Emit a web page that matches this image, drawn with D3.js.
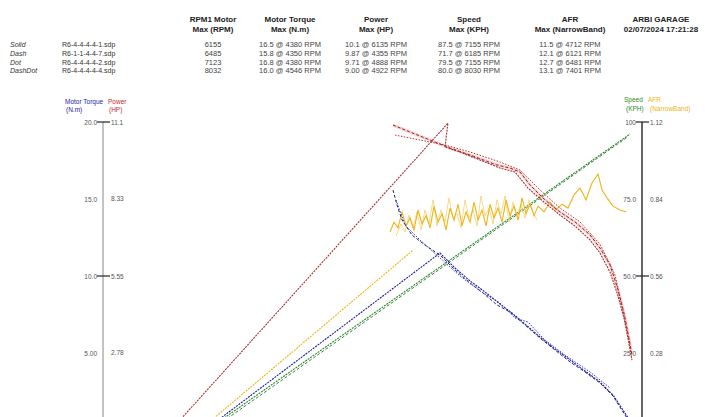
<!DOCTYPE html>
<html><head><meta charset="utf-8">
<script src="https://cdn.jsdelivr.net/npm/d3@7"></script>
<style>body{margin:0;background:#fff}svg{display:block}text{font-family:"Liberation Sans",Arial,sans-serif}</style>
</head><body><svg id="c" width="705" height="417"></svg>
<script>
// ---- header data ----
const runNames = ["Solid","Dash","Dot","DashDot"];
const runFiles = ["R6-4-4-4-4-1.sdp","R6-1-1-4-4-7.sdp","R6-4-4-4-4-2.sdp","R6-4-4-4-4-4.sdp"];
const colHeads1 = ["RPM1 Motor","Motor Torque","Power","Speed","AFR","ARBI GARAGE"];
const colHeads2 = ["Max (RPM)","Max (N.m)","Max (HP)","Max (KPH)","Max (NarrowBand)","02/07/2024 17:21:28"];
const rpmMax = ["6155","6485","7123","8032"];
const torqueMax = ["16.5 @ 4380 RPM","15.8 @ 4350 RPM","16.8 @ 4380 RPM","16.0 @ 4546 RPM"];
const powerMax = ["10.1 @ 6135 RPM","9.87 @ 4355 RPM","9.71 @ 4888 RPM","9.00 @ 4922 RPM"];
const speedMax = ["87.5 @ 7155 RPM","71.7 @ 6185 RPM","79.5 @ 7155 RPM","80.0 @ 8030 RPM"];
const afrMax = ["11.5 @ 4712 RPM","12.1 @ 6121 RPM","12.7 @ 6481 RPM","13.1 @ 7401 RPM"];
// ---- axis ticks ----
const torqueTicks = [20,15,10,5], torqueLabels = ["20.0","15.0","10.0","5.00"];
const powerTicks = [11.1,8.33,5.55,2.78], powerLabels = ["11.1","8.33","5.55","2.78"];
const speedTicks = [100,75,50,25], speedLabels = ["100","75.0","50.0","25.0"];
const afrTicks = [1.12,0.84,0.56,0.28], afrLabels = ["1.12","0.84","0.56","0.28"];
// ---- series: [rpm, value] ----
const powerSolid = [[2850,0],[6312,11.06],[6275,10.20],[6462,10.02],[6712,9.73],[6962,9.44],[7150,9.30],[7312,8.72],[7525,8.18],[7712,7.75],[7900,7.35],[8088,6.85],[8212,6.38],[8338,5.69],[8438,4.83],[8512,4.04],[8562,3.32],[8612,2.52]];
const powerDash = [[5625,10.99],[5837,10.74],[6088,10.45],[6338,10.16],[6588,9.91],[6925,9.55],[7088,9.44],[7212,9.30],[7338,8.83],[7525,8.29],[7712,7.86],[7900,7.50],[8088,7.03],[8212,6.56],[8338,5.95],[8438,5.05],[8512,4.22],[8562,3.50],[8612,2.70]];
const powerDot = [[5650,10.63],[5962,10.45],[6275,10.27],[6588,10.02],[6962,9.66],[7212,9.37],[7462,8.65],[7712,8.00],[7962,7.50],[8212,6.70],[8400,5.59],[8525,3.96],[8588,3.06]];
const torqueSolid = [[3275,0],[6212,11.49],[6400,10.52],[6588,9.68],[6775,8.96],[6962,8.18],[7112,7.60],[7275,6.88],[7462,6.04],[7650,5.26],[7838,4.55],[8025,3.83],[8212,3.12],[8375,2.27],[8525,1.10],[8612,0.39]];
const torqueDash = [[5625,15.58],[5675,14.61],[5738,13.64],[5862,12.66],[6025,12.01],[6212,11.36],[6400,10.39],[6588,9.55],[6750,8.90],[6925,8.12],[7088,7.66],[7275,6.82],[7462,5.97],[7650,5.19],[7838,4.42],[8025,3.77],[8212,3.05],[8375,2.21],[8525,0.97],[8612,0.32]];
const torqueDot = [[5662,14.94],[5775,13.31],[5962,12.34],[6212,11.17],[6462,10.0],[6712,9.03],[6962,8.25],[7150,7.27],[7312,7.01],[7525,5.84],[7775,4.87],[8088,3.77],[8338,2.73]];
const speedSolid = [[3300,0],[8588,96.1]];
const speedDash = [[3350,0],[8560,95.2]];
const afrSolid = [[3212,0],[5875,0.654]];
const afrDash = [[5588,0.720],[5638,0.756],[5688,0.735],[5738,0.793],[5788,0.742],[5838,0.771],[5888,0.728],[5938,0.800],[5988,0.749],[6038,0.779],[6088,0.735],[6138,0.814],[6188,0.756],[6238,0.786],[6288,0.728],[6338,0.807],[6388,0.763],[6438,0.821],[6488,0.742],[6538,0.793],[6588,0.756],[6638,0.829],[6688,0.763],[6738,0.800],[6788,0.742],[6838,0.821],[6888,0.771],[6938,0.807],[6988,0.756],[7038,0.837],[7088,0.779],[7138,0.814],[7188,0.763],[7238,0.844],[7288,0.786],[7338,0.821],[7388,0.779],[7438,0.814],[7512,0.793],[7588,0.829],[7662,0.800],[7738,0.821],[7812,0.807],[7888,0.855],[7962,0.880],[8038,0.837],[8112,0.898],[8188,0.931],[8238,0.873],[8300,0.844],[8375,0.814],[8462,0.800],[8538,0.793]];
const afrDot = [[5662,0.705],[5725,0.749],[5775,0.721],[5825,0.782],[5875,0.735],[5925,0.793],[5975,0.728],[6025,0.800],[6075,0.749],[6125,0.837],[6175,0.742],[6225,0.800],[6275,0.756],[6325,0.844],[6375,0.771],[6425,0.786],[6475,0.735],[6525,0.837],[6575,0.771],[6625,0.800],[6675,0.742],[6725,0.851],[6775,0.779],[6825,0.807],[6875,0.749],[6925,0.837],[6975,0.786],[7025,0.851],[7075,0.756],[7125,0.829],[7175,0.779],[7225,0.821],[7275,0.771],[7325,0.837],[7375,0.793],[7425,0.763]];

const svg = d3.select("#c");
const x = d3.scaleLinear().domain([2000,8725]).range([103,641]);
const yT = d3.scaleLinear().domain([0,20]).range([430,122]);
const yP = d3.scaleLinear().domain([0,11.1]).range([430,122]);
const yS = d3.scaleLinear().domain([0,100]).range([430,122]);
const yA = d3.scaleLinear().domain([0,1.12]).range([430,122]);
const cRed="#c42a2a", cBlue="#1c1ca8", cYel="#f0b418", cGreen="#1f8a1f";

// header
const fnt = 7.5;
const colX = [213,290,376,469,570,661];
const hg = svg.append("g").attr("text-anchor","middle").attr("fill","#222");
colHeads1.forEach((t,i)=>hg.append("text").attr("x",colX[i]).attr("y",22).attr("font-size",8).attr("font-weight","bold").text(t));
colHeads2.forEach((t,i)=>hg.append("text").attr("x",colX[i]).attr("y",32).attr("font-size",8).attr("font-weight","bold").text(t));
const rowsY = [47,56,64.5,73];
[rpmMax,torqueMax,powerMax,speedMax,afrMax].forEach((arr,i)=>{
  arr.forEach((t,j)=>hg.append("text").attr("x",colX[i]).attr("y",rowsY[j]).attr("font-size",fnt).attr("fill","#444").text(t));
});
runNames.forEach((t,j)=>svg.append("text").attr("x",10).attr("y",rowsY[j]).attr("font-size",7).attr("font-style","italic").attr("fill","#333").text(t));
runFiles.forEach((t,j)=>svg.append("text").attr("x",62).attr("y",rowsY[j]).attr("font-size",7).attr("fill","#333").text(t));

// legends for axes
const lg = svg.append("g").attr("font-size",6.5);
lg.append("text").attr("x",65).attr("y",104).attr("fill",cBlue).text("Motor Torque");
lg.append("text").attr("x",108).attr("y",104).attr("fill",cRed).text("Power");
lg.append("text").attr("x",66).attr("y",112).attr("fill",cBlue).text("(N.m)");
lg.append("text").attr("x",109).attr("y",112).attr("fill",cRed).text("(HP)");
lg.append("text").attr("x",624).attr("y",102).attr("fill",cGreen).text("Speed");
lg.append("text").attr("x",648).attr("y",102).attr("fill",cYel).text("AFR");
lg.append("text").attr("x",626).attr("y",111).attr("fill",cGreen).text("(KPH)");
lg.append("text").attr("x",650).attr("y",111).attr("fill",cYel).text("(NarrowBand)");

// axes
function vAxis(ax, col, w, yL, ticksL, labsL, yR, ticksR, labsR){
  const g = svg.append("g");
  g.append("line").attr("x1",ax).attr("x2",ax).attr("y1",yL(ticksL[0])).attr("y2",417).attr("stroke",col).attr("stroke-width",w);
  ticksL.forEach((v,i)=>{
    g.append("text").attr("x",ax-6).attr("y",yL(v)+2.5).attr("text-anchor","end").attr("font-size",6.5).attr("fill","#555").text(labsL[i]);
    if(i%2==0) g.append("line").attr("x1",ax-6).attr("x2",ax+7).attr("y1",yL(v)).attr("y2",yL(v)).attr("stroke","#222").attr("stroke-width",1.2);
  });
  ticksR.forEach((v,i)=>g.append("text").attr("x",ax+8).attr("y",yR(v)+2.5).attr("font-size",6.5).attr("fill","#555").text(labsR[i]));
}
vAxis(103,"#888",1,yT,torqueTicks,torqueLabels,yP,powerTicks,powerLabels);
vAxis(642,"#333",1.5,yS,speedTicks,speedLabels,yA,afrTicks,afrLabels);

// lines
svg.append("clipPath").attr("id","pc").append("rect").attr("x",0).attr("y",0).attr("width",705).attr("height",417);
const plot = svg.append("g").attr("clip-path","url(#pc)");
function draw(data, ys, col, dash, w, op){
  plot.append("path").datum(data).attr("fill","none").attr("stroke",col).attr("stroke-width",w||1)
    .attr("stroke-dasharray",dash).attr("opacity",op||1)
    .attr("d",d3.line().x(d=>x(d[0])).y(d=>ys(d[1])));
}
draw(speedSolid,yS,cGreen,"2,1",1.1);
draw(speedDash,yS,"#2e6e2e","3,2",0.9);
draw(afrSolid,yA,cYel,"2,1",1.1);
draw(afrDot,yA,"#f3cb5a",null,0.9,0.8);
draw(afrDash,yA,cYel,null,1.1);
draw(powerDash,yP,"#e88080",null,3,0.35);
draw(torqueSolid,yT,cBlue,"2,1",1.1);
draw(torqueDash,yT,"#20207a","3,2",1);
draw(torqueDot,yT,"#3535c0","1.5,1.5",1);
draw(powerSolid,yP,"#a83030","2,1",1.1);
draw(powerDash,yP,"#8a2a2a","3,2",1);
draw(powerDot,yP,cRed,"1.5,1.5",1);
</script></body></html>
